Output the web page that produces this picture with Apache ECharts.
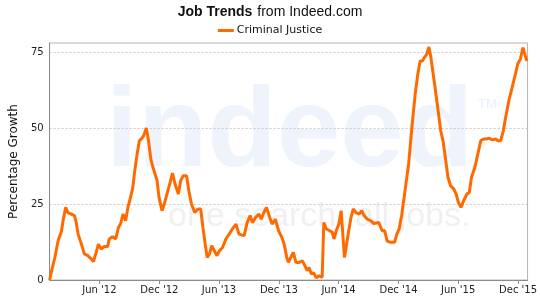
<!DOCTYPE html>
<html>
<head>
<meta charset="utf-8">
<script src="https://cdn.jsdelivr.net/npm/echarts@6/dist/echarts.min.js"></script>
<style>
html,body{margin:0;padding:0;background:#fff;}
#chart{width:540px;height:300px;}
</style>
</head>
<body>
<div id="chart"></div>
<script>
// ---- data ----
var seriesName = 'Criminal Justice';
var dates = [
 '2012-01-01','2012-01-07','2012-01-17','2012-01-27','2012-02-06','2012-02-11','2012-02-19','2012-02-26','2012-03-07','2012-03-17',
 '2012-03-22','2012-03-28','2012-04-07','2012-04-16','2012-04-27','2012-05-07','2012-05-14','2012-05-22','2012-05-29','2012-06-06',
 '2012-06-16','2012-06-26','2012-07-01','2012-07-11','2012-07-21','2012-07-29','2012-08-05','2012-08-12','2012-08-20','2012-08-27',
 '2012-09-04','2012-09-11','2012-09-17','2012-09-24','2012-10-01','2012-10-09','2012-10-14','2012-10-22','2012-10-29','2012-11-05',
 '2012-11-10','2012-11-16','2012-11-24','2012-11-30','2012-12-09','2012-12-16','2012-12-27','2013-01-03','2013-01-10','2013-01-18',
 '2013-01-28','2013-02-04','2013-02-12','2013-02-22','2013-03-01','2013-03-09','2013-03-19','2013-03-29','2013-04-06','2013-04-13',
 '2013-04-20','2013-04-26','2013-05-03','2013-05-10','2013-05-18','2013-05-26','2013-06-02','2013-06-12','2013-06-22','2013-07-02',
 '2013-07-12','2013-07-23','2013-08-01','2013-08-17','2013-08-26','2013-09-04','2013-09-11','2013-09-21','2013-10-01','2013-10-08',
 '2013-10-16','2013-10-24','2013-11-03','2013-11-10','2013-11-20','2013-11-30','2013-12-10','2013-12-17','2013-12-25','2013-12-30',
 '2014-01-06','2014-01-14','2014-01-22','2014-02-01','2014-02-11','2014-02-18','2014-02-25','2014-03-03','2014-03-10','2014-03-17',
 '2014-03-25','2014-04-02','2014-04-12','2014-04-17','2014-04-25','2014-05-05','2014-05-13','2014-05-18','2014-05-25','2014-06-02',
 '2014-06-09','2014-06-14','2014-06-19','2014-06-24','2014-07-02','2014-07-09','2014-07-16','2014-07-24','2014-08-03','2014-08-11',
 '2014-08-18','2014-08-28','2014-09-07','2014-09-17','2014-10-02','2014-10-12','2014-10-20','2014-10-27','2014-11-06','2014-11-19',
 '2014-11-26','2014-12-03','2014-12-11','2014-12-21','2015-01-01','2015-01-11','2015-01-21','2015-01-29','2015-02-05','2015-02-12',
 '2015-02-18','2015-02-25','2015-03-04','2015-03-10','2015-03-17','2015-03-24','2015-04-01','2015-04-09','2015-04-16','2015-04-23',
 '2015-05-01','2015-05-09','2015-05-19','2015-05-26','2015-06-02','2015-06-10','2015-06-18','2015-06-28','2015-07-05','2015-07-12',
 '2015-07-22','2015-07-30','2015-08-09','2015-08-18','2015-08-27','2015-09-03','2015-09-14','2015-09-24','2015-10-01','2015-10-09',
 '2015-10-17','2015-10-24','2015-11-03','2015-11-13','2015-11-23','2015-11-30','2015-12-08','2015-12-16','2015-12-23','2015-12-28'
];
var values = [
 0,3,7.4,13,16,19.5,23.9,22.2,21.7,21.2,
 19,15.1,11.8,8.6,8,6.9,6.1,9.1,11.8,10.2,
 11,11,13.5,14.2,13.5,17.3,18.6,21.7,19.5,23.9,
 27.2,30.5,36,41.4,45.8,46.7,47.5,50,45.8,39.8,
 37.6,38.2,32.7,27.2,22.8,25,29.4,32.1,35.2,31.6,
 28.3,32.7,34.3,34.3,29.4,25,22.2,23.4,23.4,17.3,
 11.8,7.4,8.6,11.3,9.6,8,9.6,10.7,13.5,15.1,
 16.8,18.4,15.1,14.6,18.9,21.2,18.9,20.6,21.7,20,
 22.2,23.9,20.6,18.4,20,16.2,14,11.8,7.4,5.8,
 7.4,9.1,5.8,5.8,6.3,4.7,3.1,4.1,2,2.3,
 0.7,1.4,0.9,18.9,16.8,16.2,15.7,13.5,16.2,18.4,
 22.8,23.4,7.4,10.7,16.2,20.6,23.4,22.2,21.7,22.8,
 21.2,20,19.5,18.6,18.9,16.2,16.2,12.9,12.4,12.4,
 15.1,16.8,21.5,29.4,38.2,50.2,61.2,67.8,72.1,72.1,
 73.2,74.3,76.7,73.2,67.8,62.3,55.7,49.1,45.8,40.3,
 33.8,31,29.9,28.3,25.5,23.9,26.1,28.3,28.8,33.8,
 37,40.9,45.8,46.4,46.4,46.7,46.1,46.4,45.8,45.8,
 49.1,53.5,59,63.4,67.8,71.1,72.7,76.5,73.8,72.1
];
var xTickDates = ['2012-06-01','2012-12-01','2013-06-01','2013-12-01','2014-06-01','2014-12-01','2015-06-01','2015-12-01'];
var xTickLabels = ["Jun '12","Dec '12","Jun '13","Dec '13","Jun '14","Dec '14","Jun '15","Dec '15"];
var yTickStep = 25;
var xStart = '2012-01-01';
var xEnd = '2015-12-30';
var yMax = 78;

// ---- build chart ----
var xTickValues = xTickDates.map(function (d) { return Date.parse(d); });
var seriesData = dates.map(function (d, i) { return [Date.parse(d), values[i]]; });
var labelFor = {};
xTickValues.forEach(function (v, i) { labelFor[v] = xTickLabels[i]; });

var chart = echarts.init(document.getElementById('chart'), null, {renderer: 'canvas'});
chart.setOption({
  animation: false,
  backgroundColor: '#ffffff',
  title: {
    text: '{b|Job Trends} {n|from Indeed.com}',
    left: 'center',
    top: -2,
    textStyle: {
      rich: {
        b: {fontFamily: 'Liberation Sans', fontWeight: 'bold', fontSize: 14, color: '#111'},
        n: {fontFamily: 'Liberation Sans', fontWeight: 'normal', fontSize: 14, color: '#111'}
      }
    }
  },
  legend: {
    top: 20,
    left: 'center',
    icon: 'rect',
    itemWidth: 16,
    itemHeight: 3,
    itemGap: 4,
    textStyle: {fontFamily: 'DejaVu Sans', fontSize: 11, color: '#111', padding: [0, 0, 0, -2]},
    data: [seriesName]
  },
  graphic: [
    {type: 'text', left: 106, top: 78, z: -10, silent: true,
     style: {text: 'indeed', fontFamily: 'Liberation Sans', fontWeight: 'bold', fontSize: 114, fill: '#eef3fc'}},
    {type: 'text', left: 478, top: 98, z: -10, silent: true,
     style: {text: 'TM', fontFamily: 'Liberation Sans', fontSize: 13, fill: '#e9eef8'}},
    {type: 'text', left: 168, top: 200, z: -10, silent: true,
     style: {text: 'one search. all jobs.', fontFamily: 'Liberation Sans', fontSize: 34, fill: '#f0f0f0'}}
  ],
  grid: {
    left: 47, right: 8, top: 43, bottom: 20,
    show: true, borderColor: '#b4b4b4', borderWidth: 1, backgroundColor: 'transparent'
  },
  xAxis: {
    type: 'value',
    min: Date.parse(xStart),
    max: Date.parse(xEnd),
    axisLine: {show: true, lineStyle: {color: '#8c8c8c', width: 1}},
    axisTick: {show: true, customValues: xTickValues, length: 4, lineStyle: {color: '#8c8c8c'}},
    axisLabel: {
      customValues: xTickValues,
      fontFamily: 'DejaVu Sans', fontSize: 10, color: '#222', margin: 5,
      formatter: function (v) { return labelFor[v] || ''; }
    },
    splitLine: {show: false}
  },
  yAxis: {
    type: 'value',
    min: 0,
    max: yMax,
    interval: yTickStep,
    name: 'Percentage Growth',
    nameLocation: 'middle',
    nameGap: 24,
    nameTextStyle: {fontFamily: 'DejaVu Sans', fontSize: 12, color: '#111'},
    axisLine: {show: true, lineStyle: {color: '#8c8c8c', width: 1}},
    axisTick: {show: false},
    axisLabel: {
      fontFamily: 'DejaVu Sans', fontSize: 10, color: '#222', margin: 6,
      showMaxLabel: false,
      formatter: function (v) { return v % yTickStep === 0 ? String(v) : ''; }
    },
    splitLine: {
      show: true, showMinLine: false, showMaxLine: false,
      lineStyle: {color: '#c8c8c8', type: [2, 2], width: 1}
    }
  },
  series: [{
    name: seriesName,
    type: 'line',
    data: seriesData,
    showSymbol: false,
    symbol: 'none',
    smooth: false,
    z: 5,
    lineStyle: {color: '#ff6a00', width: 3},
    itemStyle: {color: '#ff6a00'}
  }]
});
</script>
</body>
</html>
